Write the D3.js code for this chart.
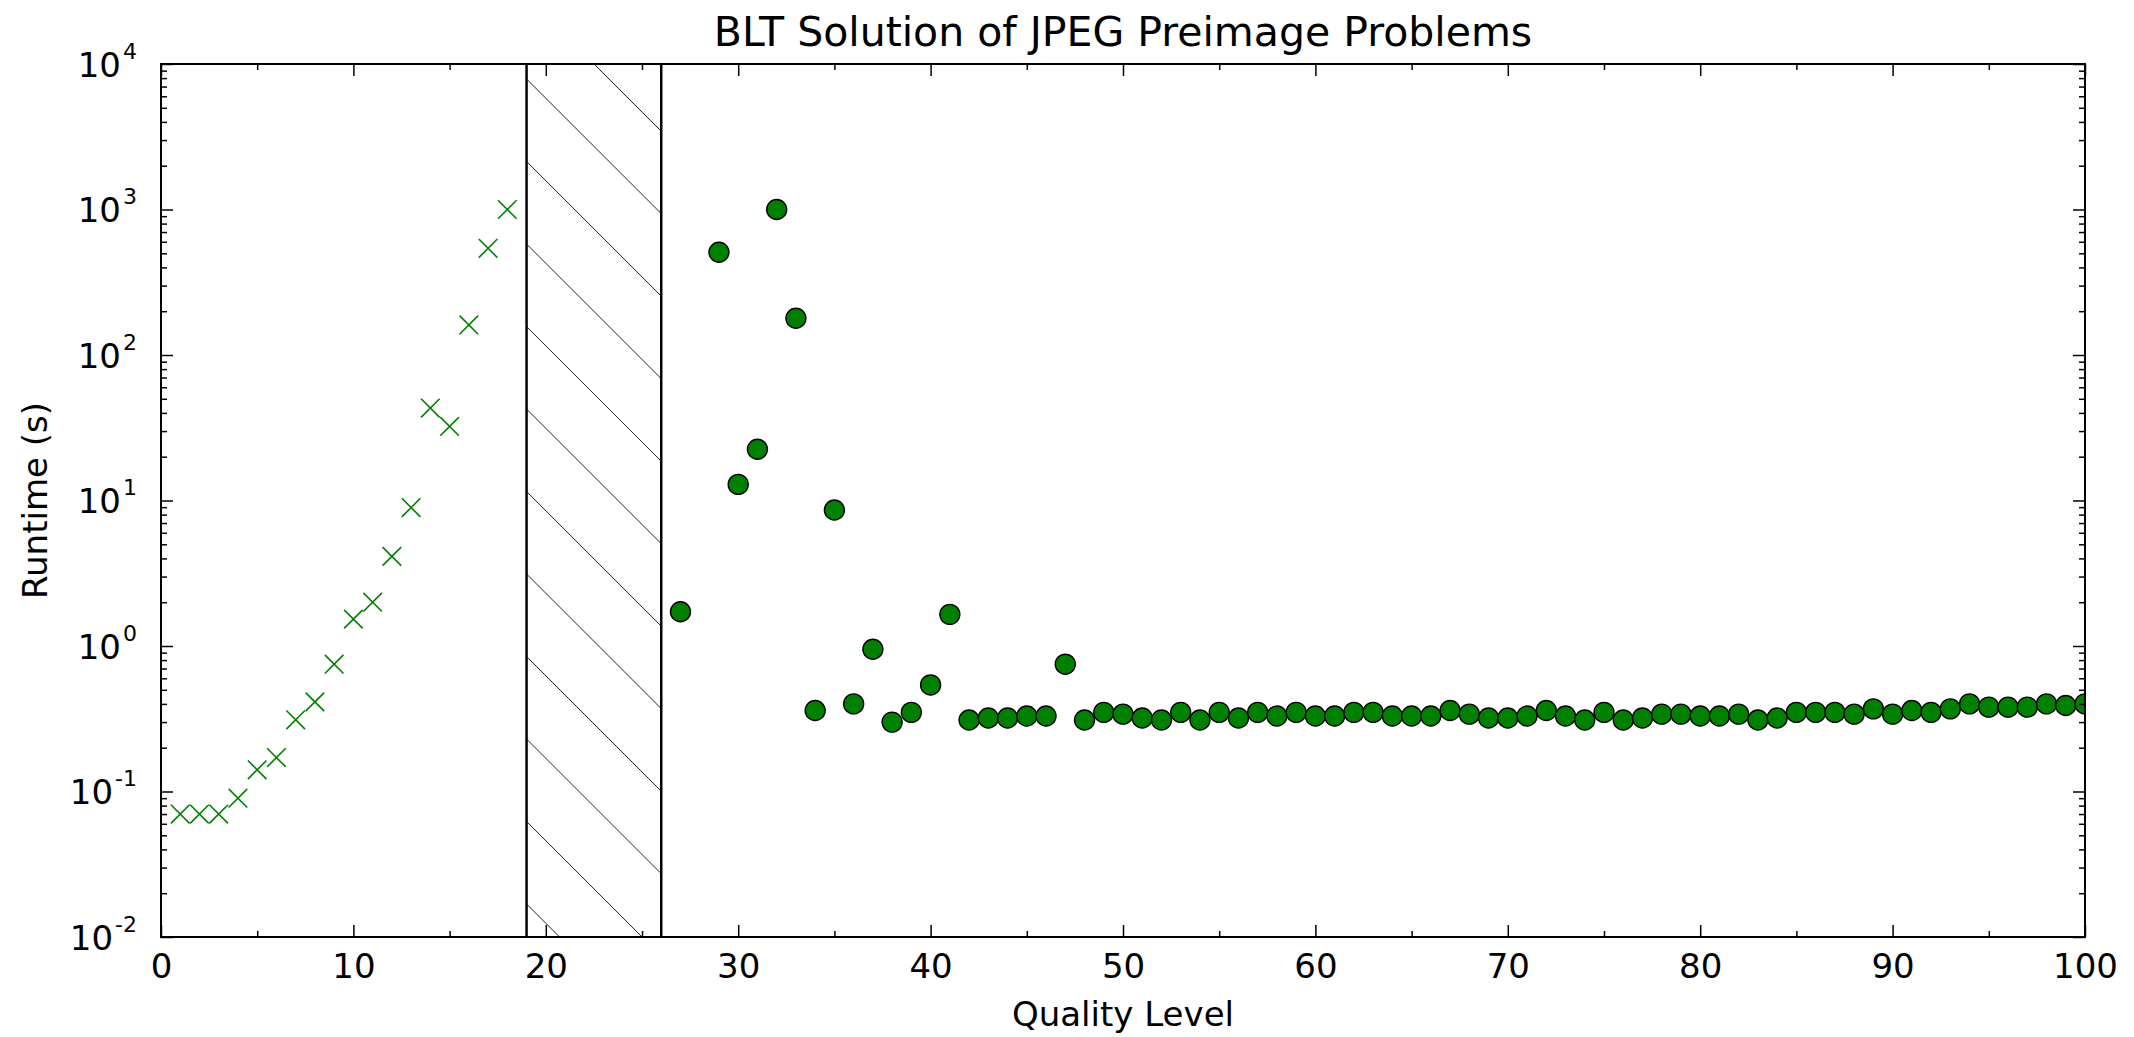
<!DOCTYPE html>
<html>
<head>
<meta charset="utf-8">
<script src="https://cdn.jsdelivr.net/npm/d3@7"></script>
<style>
body { margin: 0; background: #fff; }
</style>
</head>
<body>
<div id="chart"></div>
<script>
// quality levels solved before the gap (x markers)
var qualityLow = [1, 2, 3, 4, 5, 6, 7, 8, 9, 10, 11, 12, 13, 14, 15, 16, 17, 18];
var runtimeLow = [0.07, 0.07, 0.07, 0.09, 0.141, 0.171, 0.311, 0.413, 0.75, 1.53,
                  2.0, 4.13, 8.94, 43.2, 32.3, 161, 541, 1000];

// quality levels solved by BLT (circles)
var qualityHigh = [27, 29, 30, 31, 32, 33, 34, 35, 36, 37, 38, 39, 40, 41, 42, 43, 44, 45, 46,
                   47, 48, 49, 50, 51, 52, 53, 54, 55, 56, 57, 58, 59, 60, 61, 62, 63, 64, 65,
                   66, 67, 68, 69, 70, 71, 72, 73, 74, 75, 76, 77, 78, 79, 80, 81, 82, 83, 84,
                   85, 86, 87, 88, 89, 90, 91, 92, 93, 94, 95, 96, 97, 98, 99, 100];
var runtimeHigh = [1.72, 508, 12.9, 22.5, 1000, 179, 0.36, 8.6, 0.40, 0.95, 0.30, 0.35, 0.54,
                   1.65, 0.31, 0.32, 0.32, 0.33, 0.33, 0.75, 0.31, 0.35, 0.34, 0.32, 0.31, 0.35,
                   0.31, 0.35, 0.32, 0.35, 0.33, 0.35, 0.33, 0.33, 0.35, 0.35, 0.33, 0.33, 0.33,
                   0.36, 0.34, 0.32, 0.32, 0.33, 0.36, 0.33, 0.31, 0.35, 0.31, 0.32, 0.34, 0.34,
                   0.33, 0.33, 0.34, 0.31, 0.32, 0.35, 0.35, 0.35, 0.34, 0.37, 0.34, 0.36, 0.35,
                   0.37, 0.40, 0.38, 0.38, 0.38, 0.40, 0.39, 0.40];

// unsolved band (hatched)
var gapRange = [19, 26];

var xTicks = [0, 10, 20, 30, 40, 50, 60, 70, 80, 90, 100];
var xMinorTicks = [5, 15, 25, 35, 45, 55, 65, 75, 85, 95];
var yTicks = [0.01, 0.1, 1, 10, 100, 1000, 10000];
var yExponents = ['-2', '-1', '0', '1', '2', '3', '4'];

var width = 2134, height = 1037;
var plotLeft = 161, plotRight = 2085, plotTop = 64, plotBottom = 937;
var green = '#008000';

var svg = d3.select('#chart').append('svg')
    .attr('width', width)
    .attr('height', height)
    .style('font-family', '"DejaVu Sans", sans-serif');

var x = d3.scaleLinear().domain([0, 100]).range([plotLeft, plotRight]);
var y = d3.scaleLog().domain([0.01, 10000]).range([plotBottom, plotTop]);

var defs = svg.append('defs');
defs.append('clipPath')
    .attr('id', 'plotclip')
  .append('rect')
    .attr('x', plotLeft).attr('y', plotTop)
    .attr('width', plotRight - plotLeft).attr('height', plotBottom - plotTop);

defs.append('clipPath')
    .attr('id', 'gapclip')
  .append('rect')
    .attr('x', x(gapRange[0])).attr('y', plotTop)
    .attr('width', x(gapRange[1]) - x(gapRange[0])).attr('height', plotBottom - plotTop);

// hatched band
var gap = svg.append('g');
var gw = x(gapRange[1]) - x(gapRange[0]);
gap.append('g')
    .attr('clip-path', 'url(#gapclip)')
  .selectAll('line')
  .data(d3.range(-2, 12))
  .enter().append('line')
    .attr('x1', x(gapRange[0]))
    .attr('y1', function(k) { return 79 + 82.5 * k; })
    .attr('x2', x(gapRange[1]))
    .attr('y2', function(k) { return 79 + 82.5 * k + gw; })
    .attr('stroke', '#222')
    .attr('stroke-width', 1);

gap.selectAll('.edge')
    .data(gapRange)
  .enter().append('line')
    .attr('class', 'edge')
    .attr('x1', function(d) { return x(d); })
    .attr('x2', function(d) { return x(d); })
    .attr('y1', plotTop)
    .attr('y2', plotBottom)
    .attr('stroke', '#000')
    .attr('stroke-width', 2.5);

// x markers
svg.append('g')
  .selectAll('path')
  .data(qualityLow)
  .enter().append('path')
    .attr('transform', function(d, i) { return 'translate(' + x(d) + ',' + y(runtimeLow[i]) + ')'; })
    .attr('d', 'M-9.3,-9.3L9.3,9.3M-9.3,9.3L9.3,-9.3')
    .attr('stroke', green)
    .attr('stroke-width', 1.6)
    .attr('fill', 'none');

// circles
svg.append('g')
    .attr('clip-path', 'url(#plotclip)')
  .selectAll('circle')
  .data(qualityHigh)
  .enter().append('circle')
    .attr('cx', function(d) { return x(d); })
    .attr('cy', function(d, i) { return y(runtimeHigh[i]); })
    .attr('r', 10)
    .attr('fill', green)
    .attr('stroke', '#000')
    .attr('stroke-width', 1.4);

// axes, ticks pointing inward
function styleAxis(g) {
  g.select('.domain').remove();
  g.selectAll('.tick line').attr('stroke', '#000').attr('stroke-width', 1.5);
}

var yMinor = y.ticks().filter(function(d) { return yTicks.indexOf(d) < 0; });

svg.append('g')
    .attr('transform', 'translate(0,' + plotBottom + ')')
    .call(d3.axisBottom(x).tickValues(xTicks).tickSize(-12).tickPadding(17))
    .call(styleAxis)
    .selectAll('text')
    .attr('font-size', 34)
    .attr('font-family', '"DejaVu Sans", sans-serif')
    .attr('fill', '#000');

svg.append('g')
    .attr('transform', 'translate(0,' + plotBottom + ')')
    .call(d3.axisBottom(x).tickValues(xMinorTicks).tickSize(-6).tickFormat(''))
    .call(styleAxis);

svg.append('g')
    .attr('transform', 'translate(0,' + plotTop + ')')
    .call(d3.axisTop(x).tickValues(xTicks).tickSize(-12).tickFormat(''))
    .call(styleAxis);

svg.append('g')
    .attr('transform', 'translate(0,' + plotTop + ')')
    .call(d3.axisTop(x).tickValues(xMinorTicks).tickSize(-6).tickFormat(''))
    .call(styleAxis);

var yAxisG = svg.append('g')
    .attr('transform', 'translate(' + plotLeft + ',0)')
    .call(d3.axisLeft(y).tickValues(yTicks).tickSize(-12).tickPadding(24).tickFormat(function() { return ''; }))
    .call(styleAxis);

yAxisG.selectAll('.tick text').each(function(d, i) {
  var t = d3.select(this)
      .attr('dy', null)
      .attr('y', 12)
      .attr('fill', '#000')
      .attr('font-family', '"DejaVu Sans", sans-serif')
      .attr('font-size', 34);
  t.append('tspan').text('10');
  t.append('tspan')
      .attr('dx', 2)
      .attr('dy', -18)
      .attr('font-size', 22)
      .text(yExponents[i]);
});

svg.append('g')
    .attr('transform', 'translate(' + plotLeft + ',0)')
    .call(d3.axisLeft(y).tickValues(yMinor).tickSize(-6).tickFormat(''))
    .call(styleAxis);

svg.append('g')
    .attr('transform', 'translate(' + plotRight + ',0)')
    .call(d3.axisRight(y).tickValues(yTicks).tickSize(-12).tickFormat(''))
    .call(styleAxis);

svg.append('g')
    .attr('transform', 'translate(' + plotRight + ',0)')
    .call(d3.axisRight(y).tickValues(yMinor).tickSize(-6).tickFormat(''))
    .call(styleAxis);

// frame
svg.append('rect')
    .attr('x', plotLeft).attr('y', plotTop)
    .attr('width', plotRight - plotLeft).attr('height', plotBottom - plotTop)
    .attr('fill', 'none')
    .attr('stroke', '#000')
    .attr('stroke-width', 2);

// labels
svg.append('text')
    .attr('x', (plotLeft + plotRight) / 2)
    .attr('y', 46)
    .attr('text-anchor', 'middle')
    .attr('font-size', 41)
    .text('BLT Solution of JPEG Preimage Problems');

svg.append('text')
    .attr('x', (plotLeft + plotRight) / 2)
    .attr('y', 1026)
    .attr('text-anchor', 'middle')
    .attr('font-size', 34)
    .text('Quality Level');

svg.append('text')
    .attr('transform', 'translate(46.5,' + (plotTop + plotBottom) / 2 + ') rotate(-90)')
    .attr('text-anchor', 'middle')
    .attr('font-size', 34)
    .text('Runtime (s)');
</script>
</body>
</html>
